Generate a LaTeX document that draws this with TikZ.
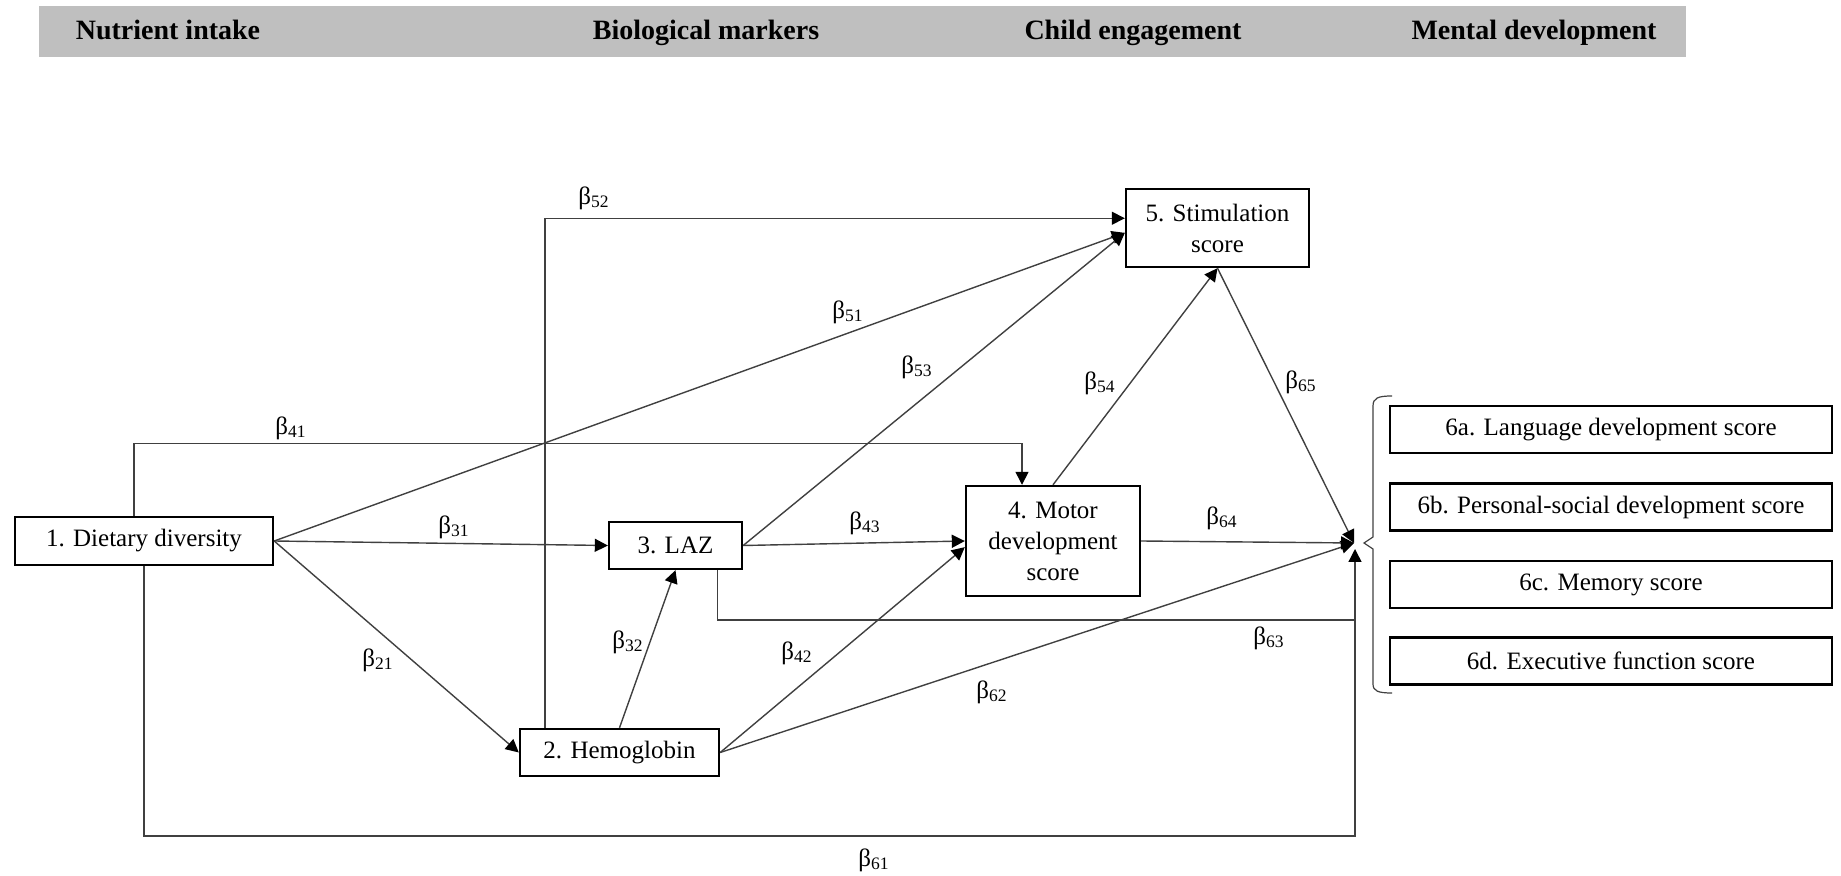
\documentclass[tikz,border=0pt]{standalone}
\usepackage{fontspec}
\setmainfont{Liberation Serif}
\usetikzlibrary{arrows.meta}

\begin{document}
\begin{tikzpicture}[x=0.5pt,y=-0.5pt,
    box/.style={draw=black,line width=1.2pt,inner sep=0pt,align=center,
        minimum height=23.5pt,font=\fontsize{12.5}{15.5}\selectfont},
    outbox/.style={box,minimum width=221pt},
    arr/.style={draw=black!75,line width=0.7pt,-{Triangle[length=6.5pt,width=6.5pt,color=black]}},
    lin/.style={draw=black!75,line width=0.7pt},
    coef/.style={inner sep=0pt,font=\fontsize{12.5}{15}\selectfont},
    hdr/.style={inner sep=0pt,anchor=base,font=\fontsize{14}{16}\selectfont\bfseries}]
\useasboundingbox (0,0) rectangle (1841,876);

% header bar
\fill[gray!50] (39,6) rectangle (1686,57);
    \node[hdr] (hnut) at (168,40) {Nutrient intake};
    \node[hdr] (hbio) at (706,40) {Biological markers};
    \node[hdr] (hchi) at (1133,40) {Child engagement};
    \node[hdr] (hmen) at (1534,40) {Mental development};

% variables
    \node[box,minimum width=129pt,minimum height=24pt] (diet) at (144,541) {1. Dietary diversity};
    \node[box,minimum width=99.5pt] (hemo) at (619.5,752.5) {2. Hemoglobin};
    \node[box,minimum width=66.5pt] (laz) at (675.5,545.5) {3. LAZ};
    \node[box,minimum width=87pt,minimum height=55pt] (motor) at (1053,541) {4. Motor\\development\\score};
    \node[box,minimum width=91.5pt,minimum height=39pt] (stim) at (1217.5,228) {5. Stimulation\\score};

    \node[outbox] (lang) at (1611,429.5) {6a. Language development score};
    \node[outbox] (pers) at (1611,507) {6b. Personal-social development score};
    \node[outbox] (memo) at (1611,584.5) {6c. Memory score};
    \node[outbox] (exec) at (1611,661) {6d. Executive function score};

    \coordinate (hub) at (1354,543);
    \coordinate (j63) at (1355,620);
    \coordinate (j61) at (1355,836);

% paths
     \draw[arr] (diet.east) -- (laz.west);
     \draw[arr] (diet.east) -- (hemo.west);
     \draw[arr] (diet.east) -- (stim.183);
     \draw[arr] ([xshift=-5pt]diet.north) -- ++(0,-72) -| ([xshift=-15.5pt]motor.north);
     \draw[arr] ([xshift=13pt]hemo.north west) |- (stim.174);
     \draw[arr] (hemo.north) -- (laz.south);
     \draw[arr] (hemo.east) -- (motor.184);
     \draw[arr] (hemo.east) -- (hub);
     \draw[arr] (laz.east) -- (motor.west);
     \draw[arr] (laz.east) -- (stim.183);
     \draw[lin] ([xshift=-13pt]laz.south east) |- (j63);
     \draw[arr] (diet.south) |- (j61) -- ([yshift=-3pt]j61 |- hub);
     \draw[arr] (motor.north) -- (stim.south);
     \draw[arr] (stim.south) -- (hub);
     \draw[arr] (motor.east) -- (hub);

% brace round the outcomes
\draw[lin,line width=0.6pt] (1392,396) .. controls (1378,396) and (1373,398) .. (1373,406)
    -- (1373,537) -- (1364,543) -- (1373,549) -- (1373,684)
    .. controls (1373,691) and (1378,693) .. (1392,693);

% coefficients
    \node[coef] (c41) at (291,428) {β\textsubscript{41}};
    \node[coef] (c52) at (594,198) {β\textsubscript{52}};
    \node[coef] (c51) at (848,312) {β\textsubscript{51}};
    \node[coef] (c53) at (917,367) {β\textsubscript{53}};
    \node[coef] (c54) at (1100,383) {β\textsubscript{54}};
    \node[coef] (c65) at (1301,382) {β\textsubscript{65}};
    \node[coef] (c31) at (454,527) {β\textsubscript{31}};
    \node[coef] (c43) at (865,523) {β\textsubscript{43}};
    \node[coef] (c64) at (1222,518) {β\textsubscript{64}};
    \node[coef] (c21) at (378,660) {β\textsubscript{21}};
    \node[coef] (c32) at (628,642) {β\textsubscript{32}};
    \node[coef] (c42) at (797,653) {β\textsubscript{42}};
    \node[coef] (c63) at (1269,638) {β\textsubscript{63}};
    \node[coef] (c62) at (992,692) {β\textsubscript{62}};
    \node[coef] (c61) at (874,860) {β\textsubscript{61}};
\end{tikzpicture}
\end{document}
